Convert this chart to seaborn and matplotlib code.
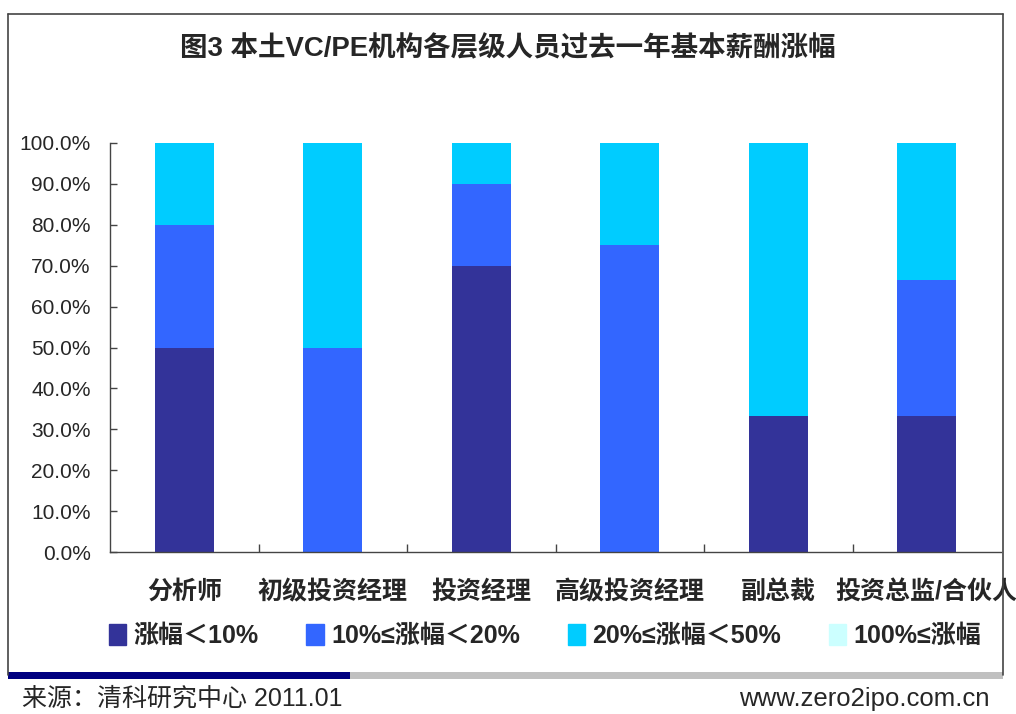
import matplotlib
matplotlib.use("Agg")
import matplotlib.pyplot as plt
import matplotlib.patches as mpatches
import seaborn as sns
import numpy as np
import pandas as pd

# data (percent)
categories = ["分析师", "初级投资经理", "投资经理", "高级投资经理", "副总裁", "投资总监/合伙人"]
series_names = ["涨幅＜10%", "10%≤涨幅＜20%", "20%≤涨幅＜50%", "100%≤涨幅"]
lt10 = [50.0, 0.0, 70.0, 0.0, 33.3, 33.3]
r10_20 = [30.0, 50.0, 20.0, 75.0, 0.0, 33.3]
r20_50 = [20.0, 50.0, 10.0, 25.0, 66.7, 33.4]
ge100 = [0.0, 0.0, 0.0, 0.0, 0.0, 0.0]
colors = ["#333399", "#3366FF", "#00CCFF", "#CCFFFF"]

sns.set_theme(style="white")
plt.rcParams["font.family"] = ["Liberation Sans", "Noto Sans CJK SC", "DejaVu Sans"]

fig = plt.figure(figsize=(10.16, 7.14), dpi=100)
ax = fig.add_axes([110 / 1016, 162 / 714, 891 / 1016, 409 / 714])

df = pd.DataFrame({"cat": categories, "a": lt10, "b": r10_20, "c": r20_50, "d": ge100})
bottom = np.zeros(len(categories))
for col, c in zip(["a", "b", "c", "d"], colors):
    sns.barplot(data=df, x="cat", y=col, color=c, width=0.4, bottom=bottom,
                ax=ax, saturation=1, edgecolor="none", linewidth=0)
    bottom = bottom + df[col].values

ax.set_xlim(-0.5, len(categories) - 0.5)
ax.set_ylim(0, 100)
ax.set_yticks(np.arange(0, 101, 10))
ax.set_yticklabels([f"{v:.1f}%" for v in np.arange(0, 101, 10)], fontsize=15)
ax.set_xticks(np.arange(len(categories)))
ax.set_xticklabels(categories, fontsize=18, fontweight="bold")
ax.set_xlabel("")
ax.set_ylabel("")
ax.tick_params(axis="x", length=0, pad=20)
ax.tick_params(axis="y", direction="in", length=5, width=1, color="#444444", pad=14, left=True)
# separators between categories
ax.set_xticks(np.arange(len(categories) - 1) + 0.5, minor=True)
ax.tick_params(axis="x", which="minor", direction="in", length=6, width=1, color="#444444", bottom=True)
for s in ["top", "right"]:
    ax.spines[s].set_visible(False)
for s in ["left", "bottom"]:
    ax.spines[s].set_color("#444444")
    ax.spines[s].set_linewidth(1)

fig.text(508 / 1016, 1 - 49 / 714, "图3 本土VC/PE机构各层级人员过去一年基本薪酬涨幅",
         ha="center", va="center", fontsize=19.8, fontweight="bold")

handles = [mpatches.Patch(color=c, label=n) for c, n in zip(colors, series_names)]
fig.legend(handles=handles, loc="center", bbox_to_anchor=(545 / 1016, 1 - 636 / 714),
           ncol=4, frameon=False, handlelength=0.7, handleheight=0.9, handletextpad=0.3,
           columnspacing=1.9, prop={"size": 18, "weight": "bold"})

# outer frame and footer band
fig.add_artist(plt.Line2D([8 / 1016, 8 / 1016], [1 - 14 / 714, 1 - 675 / 714],
                          transform=fig.transFigure, color="#444444", lw=1.2))
fig.add_artist(plt.Line2D([1003 / 1016, 1003 / 1016], [1 - 14 / 714, 1 - 675 / 714],
                          transform=fig.transFigure, color="#444444", lw=1.2))
fig.add_artist(plt.Line2D([8 / 1016, 1003 / 1016], [1 - 14 / 714, 1 - 14 / 714],
                          transform=fig.transFigure, color="#444444", lw=1.2))
fig.add_artist(mpatches.Rectangle((350 / 1016, 1 - 679 / 714), 653 / 1016, 7 / 714,
                                  transform=fig.transFigure, color="#C0C0C0", lw=0))
fig.add_artist(mpatches.Rectangle((8 / 1016, 1 - 679 / 714), 342 / 1016, 7 / 714,
                                  transform=fig.transFigure, color="#000080", lw=0))

fig.text(22 / 1016, 1 - 699 / 714, "来源：清科研究中心 2011.01", ha="left", va="center", fontsize=18)
fig.text(990 / 1016, 1 - 699 / 714, "www.zero2ipo.com.cn", ha="right", va="center", fontsize=18.5)

fig.savefig("out.png", dpi=100)
